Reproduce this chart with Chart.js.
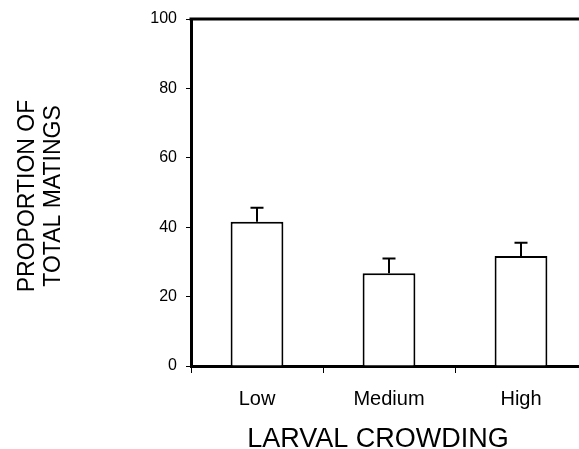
<!DOCTYPE html>
<html>
<head>
<meta charset="utf-8">
<script src="https://cdn.jsdelivr.net/npm/chart.js@4"></script>
<style>
  html, body { margin: 0; padding: 0; background: #fff; overflow: hidden; }
  #wrap { width: 600px; height: 449px; }
</style>
</head>
<body>
<div id="wrap"><canvas id="grafico" width="600" height="449"></canvas></div>
<script>
// dados
const categorias = ['Low', 'Medium', 'High']
const proporcao = [41.6, 26.7, 31.7]
const erro = [4.0, 4.3, 3.8]
const yTicks = [0, 20, 40, 60, 80, 100]
const tituloY = ['PROPORTION OF', 'TOTAL MATINGS']
const tituloX = 'LARVAL CROWDING'

const fonte = '"Liberation Sans", Arial, sans-serif'

// barras de erro + moldura de cima + titulos
const extras = {
  id: 'extras',
  afterDatasetsDraw(chart) {
    const ctx = chart.ctx
    const y = chart.scales.y
    const meta = chart.getDatasetMeta(0)
    ctx.save()
    ctx.strokeStyle = '#000'
    ctx.lineWidth = 2
    meta.data.forEach((bar, i) => {
      const topo = y.getPixelForValue(proporcao[i] + erro[i])
      ctx.beginPath()
      ctx.moveTo(bar.x, bar.y)
      ctx.lineTo(bar.x, topo)
      ctx.moveTo(bar.x - 6.5, topo)
      ctx.lineTo(bar.x + 6.5, topo)
      ctx.stroke()
    })
    // linha de cima
    const area = chart.chartArea
    ctx.lineWidth = 3
    ctx.beginPath()
    ctx.moveTo(area.left - 1.5, area.top)
    ctx.lineTo(chart.width, area.top)
    ctx.stroke()
    ctx.restore()
  },
  afterDraw(chart) {
    const ctx = chart.ctx
    ctx.save()
    ctx.fillStyle = '#000'
    ctx.textAlign = 'center'
    ctx.textBaseline = 'middle'
    ctx.font = '23px ' + fonte
    ctx.translate(41, 196)
    ctx.rotate(-Math.PI / 2)
    ctx.fillText(tituloY[0], 0, -13)
    ctx.fillText(tituloY[1], 0, 13)
    ctx.restore()

    ctx.save()
    ctx.fillStyle = '#000'
    ctx.textAlign = 'center'
    ctx.textBaseline = 'alphabetic'
    ctx.font = '27px ' + fonte
    ctx.fillText(tituloX, 378, 447)
    ctx.restore()
  }
}

new Chart(document.getElementById('grafico'), {
  type: 'bar',
  data: {
    labels: categorias,
    datasets: [{
      data: proporcao,
      backgroundColor: '#fff',
      borderColor: '#000',
      borderWidth: 2,
      borderSkipped: 'bottom',
      categoryPercentage: 1,
      barPercentage: 0.4
    }]
  },
  options: {
    responsive: false,
    animation: false,
    layout: { padding: { left: 0, top: 19, right: 13, bottom: 0 } },
    plugins: { legend: { display: false }, tooltip: { enabled: false } },
    scales: {
      x: {
        afterFit: (s) => { s.height = 83 },
        grid: { drawOnChartArea: false, offset: true, tickLength: 7, color: '#000', lineWidth: 1 },
        border: { color: '#000', width: 3 },
        ticks: { color: '#000', font: { family: fonte, size: 20 }, padding: 14 }
      },
      y: {
        min: 0,
        max: 100,
        afterFit: (s) => { s.width = 191 },
        afterBuildTicks: (s) => { s.ticks = yTicks.map(v => ({ value: v })) },
        grid: { drawOnChartArea: false, tickLength: 5, color: '#000', lineWidth: 1 },
        border: { color: '#000', width: 3 },
        ticks: { color: '#000', font: { family: fonte, size: 16 }, padding: 9 }
      }
    }
  },
  plugins: [extras]
})
</script>
</body>
</html>
